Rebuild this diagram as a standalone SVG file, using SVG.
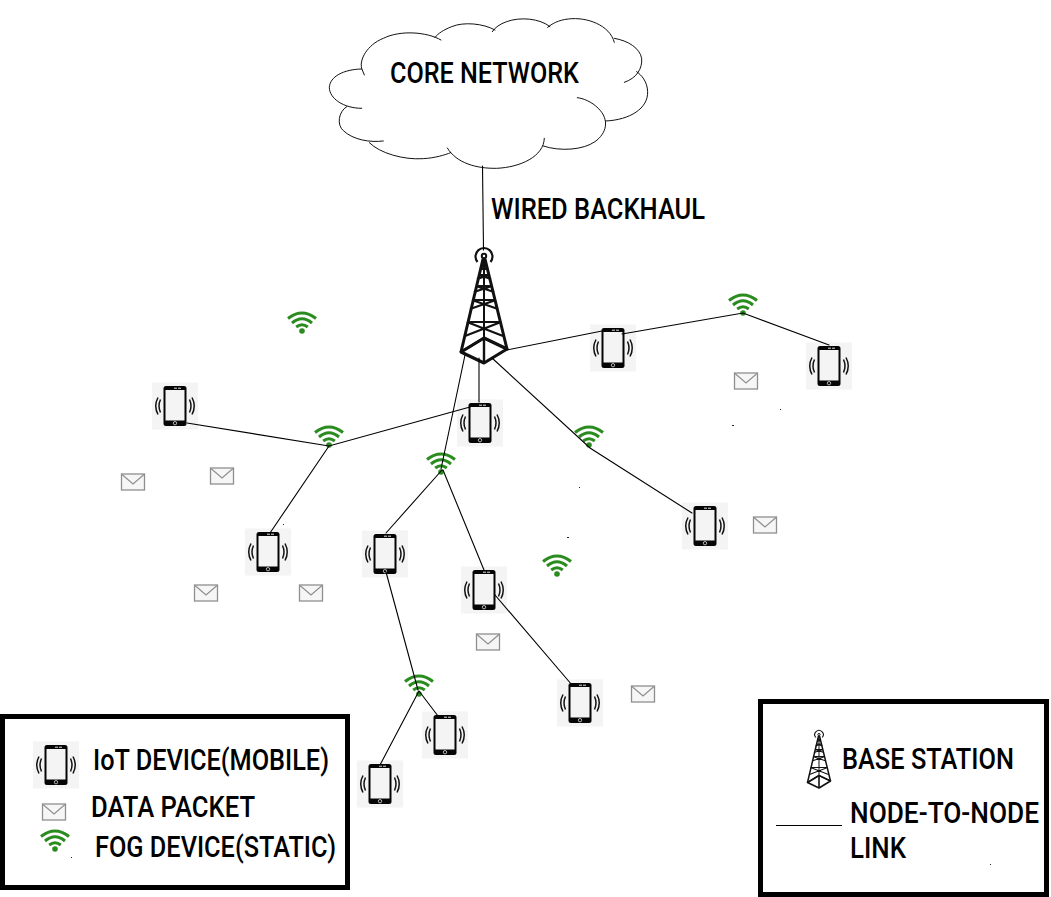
<svg xmlns="http://www.w3.org/2000/svg" width="1051" height="897" viewBox="0 0 1051 897">
<style>
.t{font-family:"Roboto","Liberation Sans",sans-serif;font-weight:500;font-size:30px;fill:#000}
.l{fill:none;stroke:#000;stroke-width:1.100;stroke-linecap:round}
.box{fill:#fff;stroke:#000;stroke-width:5}
.cloud{fill:none;stroke:#000;stroke-width:2.800;stroke-linecap:round}
</style>
<defs>
<g id="phone">
<rect x="-23" y="-23.500" width="46" height="47" fill="#f4f4f4"/>
<rect x="-11.500" y="-20" width="23" height="40" rx="2.500" fill="#050505"/>
<rect x="-9.500" y="-16" width="19" height="30.500" fill="#f4f4f4"/>
<rect x="-1" y="-18.300" width="3" height="1" fill="#ddd"/>
<rect x="3" y="-18.300" width="3" height="1" fill="#ddd"/>
<circle cx="0" cy="17.200" r="1.700" fill="none" stroke="#ddd" stroke-width=".8"/>
<g fill="none" stroke="#111" stroke-width="1.500">
<path d="M-14.500-6.500Q-17.500 0-14.500 6.500"/><path d="M-17-8.500Q-21.500 0-17 8.500"/>
<path d="M14.500-6.500Q17.500 0 14.500 6.500"/><path d="M17-8.500Q21.500 0 17 8.500"/>
</g>
</g>
<g id="wifi" fill="none" stroke="#2a8c1e" stroke-width="3">
<path d="M-14-3.500Q0-14.500 14-3.500"/>
<path d="M-10 1Q0-7.500 10 1"/>
<path d="M-5.800 5Q0 0.500 5.800 5"/>
<circle cx="0" cy="9" r="2.800" fill="#2a8c1e" stroke="none"/>
</g>
<g id="mail">
<rect x="-11.500" y="-8" width="23" height="16" fill="#f6f6f6" stroke="#8f8f8f" stroke-width="1.300"/>
<path d="M-11-7.500L0 2 11-7.500" fill="none" stroke="#8f8f8f" stroke-width="1.200"/>
</g>
<g id="tower" fill="none" stroke="#111" stroke-linejoin="round">
<circle cx="0" cy="-53" r="2.200" stroke-width="2"/>
<path d="M-6.500-47A8.500 8.500 0 1 1 6.500-47" stroke-width="2.200"/>
<path d="M0-51V54" stroke-width="2"/>
<path d="M-23 43L-1-50M23 40L1-50" stroke-width="3"/>
<path d="M-23 43L0 54 23 40 0 29Z" stroke-width="3.200"/>
<path d="M-23 43L0 29 23 40M0 29V54" stroke-width="2.400"/>
<path d="M-19 27L17 13M19 27L-17 13M-17 13H17M-14 0L12-9M14 0L-12-9M-12-9H12M-10-17L8-23M10-17L-8-23M-8-23H8M-7-30L5-34M7-30L-5-34M-5-34H5M-4-40H4M-3-44L3-40M3-44L-3-40" stroke-width="2.100"/>
</g>
</defs>
<rect width="1051" height="897" fill="#fff"/>

<g id="core-network">
<g class="cloud" transform="translate(320 10) scale(.3333)">
<path d="M363 90C320 65 240 60 190 85C140 105 118 150 125 175L133 195"/>
<path d="M125 177C70 178 30 200 28 232C28 265 70 295 125 295"/>
<path d="M80 290C55 305 50 345 70 362C100 390 150 398 190 393"/>
<path d="M148 398C180 430 250 450 310 446C345 444 375 435 392 428"/>
<path d="M382 414C410 460 470 476 530 475C600 472 672 440 673 385"/>
<path d="M670 408C720 425 790 420 825 395C860 370 870 330 835 295C815 275 790 265 772 263"/>
<path d="M857 333C930 330 985 295 983 245C982 215 965 195 950 185"/>
<path d="M913 217C950 205 968 175 965 145C960 115 925 92 883 85"/>
<path d="M883 97C870 45 800 20 745 27C715 30 695 42 683 52"/>
<path d="M690 50C660 25 600 20 560 35C540 42 525 52 517 65"/>
<path d="M525 60C490 40 430 35 395 50C370 60 355 70 345 82"/>
</g>
<text class="t" x="390" y="83" textLength="189" lengthAdjust="spacingAndGlyphs">CORE NETWORK</text>
</g>
<g id="wired-backhaul"><text class="t" x="491" y="219" textLength="214" lengthAdjust="spacingAndGlyphs">WIRED BACKHAUL</text></g>
<g id="base-station"><use href="#tower" x="484" y="309"/></g>

<g id="iot-1"><use href="#phone" x="175" y="406"/></g>
<g id="iot-2"><use href="#phone" x="480" y="423"/></g>
<g id="iot-3"><use href="#phone" x="613" y="348"/></g>
<g id="iot-4"><use href="#phone" x="829" y="366"/></g>
<g id="iot-5"><use href="#phone" x="268" y="552"/></g>
<g id="iot-6"><use href="#phone" x="385" y="554"/></g>
<g id="iot-7"><use href="#phone" x="484" y="590"/></g>
<g id="iot-8"><use href="#phone" x="705" y="526"/></g>
<g id="iot-9"><use href="#phone" x="580" y="703"/></g>
<g id="iot-10"><use href="#phone" x="445" y="735"/></g>
<g id="iot-11"><use href="#phone" x="380" y="784"/></g>

<g id="fog-1"><use href="#wifi" x="302" y="322"/></g>
<g id="fog-2"><use href="#wifi" x="329" y="436"/></g>
<g id="fog-3"><use href="#wifi" x="441" y="463"/></g>
<g id="fog-4"><use href="#wifi" x="589" y="436"/></g>
<g id="fog-5"><use href="#wifi" x="743" y="304"/></g>
<g id="fog-6"><use href="#wifi" x="557" y="565"/></g>
<g id="fog-7"><use href="#wifi" x="419" y="685"/></g>

<g id="packet-1"><use href="#mail" x="746" y="381"/></g>
<g id="packet-2"><use href="#mail" x="133" y="482"/></g>
<g id="packet-3"><use href="#mail" x="222" y="476"/></g>
<g id="packet-4"><use href="#mail" x="206" y="593"/></g>
<g id="packet-5"><use href="#mail" x="311" y="593"/></g>
<g id="packet-6"><use href="#mail" x="488" y="642"/></g>
<g id="packet-7"><use href="#mail" x="765" y="525"/></g>
<g id="packet-8"><use href="#mail" x="643" y="694"/></g>

<g id="connectors">
<path class="l" d="M482.500 166L483.500 250"/>
<path class="l" d="M507 350L602 331M622 334L743 313L829 345"/>
<path class="l" d="M479 358V402"/>
<path class="l" d="M465 355L441 469M442 470L386 533M443 470L484 570"/>
<path class="l" d="M386 572L418 690M419 691L380 765M419 691L438 716"/>
<path class="l" d="M495 595L572 685"/>
<path class="l" d="M492 358L590 448L692 513"/>
<path class="l" d="M187 423L329 446L470 407M329 446L270 533"/>
</g>

<g id="legend-left">
<rect class="box" x="2.500" y="716.500" width="345" height="171"/>
<use href="#phone" x="56" y="765"/>
<text class="t" x="93" y="770" textLength="236" lengthAdjust="spacingAndGlyphs">IoT DEVICE(MOBILE)</text>
<use href="#mail" x="54" y="812"/>
<text class="t" x="91" y="817" textLength="164" lengthAdjust="spacingAndGlyphs">DATA PACKET</text>
<use href="#wifi" x="55" y="840"/>
<text class="t" x="95" y="857" textLength="241" lengthAdjust="spacingAndGlyphs">FOG DEVICE(STATIC)</text>
</g>
<g id="legend-right">
<rect class="box" x="760.500" y="701.500" width="286" height="193"/>
<g transform="translate(819 761) scale(.5)"><use href="#tower"/></g>
<text class="t" x="842" y="769" textLength="172" lengthAdjust="spacingAndGlyphs">BASE STATION</text>
<path d="M776 825.500H842" fill="none" stroke="#000" stroke-width="1"/>
<text class="t" x="850" y="823" textLength="189" lengthAdjust="spacingAndGlyphs">NODE-TO-NODE</text>
<text class="t" x="850" y="858" textLength="56" lengthAdjust="spacingAndGlyphs">LINK</text>
</g>
<g id="specks" fill="#222">
<rect x="71" y="857" width="1" height="1"/><rect x="990" y="864" width="1" height="1"/><rect x="567" y="537" width="2" height="1"/><rect x="732" y="425" width="2" height="1"/><rect x="780" y="409" width="1" height="1"/><rect x="579" y="487" width="1" height="1"/><rect x="283" y="524" width="1" height="1"/>
</g>
</svg>
